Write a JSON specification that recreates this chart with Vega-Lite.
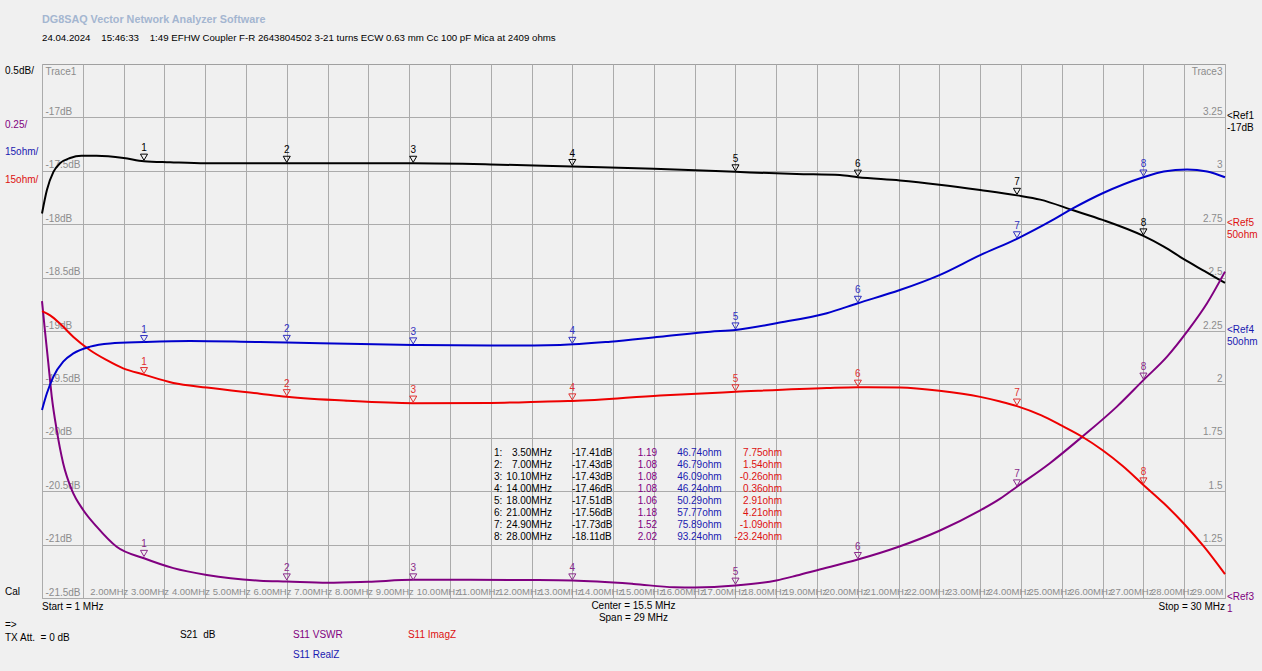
{
  "$schema": "https://vega.github.io/schema/vega-lite/v6.json",
  "width": 1183,
  "height": 534,
  "autosize": {"type": "none"},
  "padding": {"left": 42, "top": 64, "right": 37, "bottom": 73},
  "background": "#f0f0f0",
  "config": {
    "view": {"fill": "#f0f0f0", "stroke": "#a0a0a0", "strokeWidth": 1},
    "text": {"font": "Liberation Sans", "fontSize": 10},
    "axis": {"labelFont": "Liberation Sans", "labelFontSize": 10, "labelColor": "#8c8c8c", "gridColor": "#ababab", "gridOpacity": 1, "gridWidth": 1, "ticks": false, "domain": false, "titleFont": "Liberation Sans"},
    "axisX": {"tickCount": 29, "grid": true, "labelFontSize": 9.5, "labelAlign": "left", "labelBaseline": "bottom", "labelPadding": -2, "labelOffset": 7, "labelOverlap": false, "labelFlush": false, "labelExpr": "datum.value < 1.5 || datum.value > 29.5 ? '' : (datum.value == 29 ? '29.00M' : format(datum.value, '.2f') + 'MHz')"}
  },
  "title": {
    "text": "DG8SAQ Vector Network Analyzer Software",
    "subtitle": "24.04.2024\u00a0\u00a0\u00a0\u00a015:46:33\u00a0\u00a0\u00a0\u00a01:49 EFHW Coupler F-R 2643804502 3-21 turns ECW 0.63 mm Cc 100 pF Mica at 2409 ohms",
    "anchor": "start", "frame": "group", "offset": 21,
    "font": "Liberation Sans", "fontSize": 10.8, "fontWeight": "bold", "color": "#a4b6d0",
    "subtitleFont": "Liberation Sans", "subtitleFontSize": 9.7, "subtitleColor": "#000000", "subtitlePadding": 9
  },
  "datasets": {
    "s21": [
      {"f":1.0,"db":-17.90},{"f":1.12,"db":-17.68},{"f":1.28,"db":-17.51},{"f":1.44,"db":-17.43},{"f":1.69,"db":-17.38},{"f":1.97,"db":-17.36},{"f":2.34,"db":-17.36},{"f":3.0,"db":-17.38},{"f":3.5,"db":-17.41},{"f":4.14,"db":-17.42},{"f":5.0,"db":-17.43},{"f":6.34,"db":-17.43},{"f":7.0,"db":-17.43},{"f":8.5,"db":-17.43},{"f":10.1,"db":-17.43},{"f":12.0,"db":-17.44},{"f":14.0,"db":-17.46},{"f":16.0,"db":-17.48},{"f":18.0,"db":-17.51},{"f":19.5,"db":-17.53},{"f":20.56,"db":-17.54},{"f":21.0,"db":-17.56},{"f":22.03,"db":-17.59},{"f":23.0,"db":-17.63},{"f":24.0,"db":-17.68},{"f":24.9,"db":-17.73},{"f":25.47,"db":-17.77},{"f":26.28,"db":-17.87},{"f":27.0,"db":-17.96},{"f":28.0,"db":-18.11},{"f":28.5,"db":-18.21},{"f":29.0,"db":-18.33},{"f":29.5,"db":-18.44},{"f":30.0,"db":-18.55}
    ],
    "vswr": [
      {"f":1.0,"vswr":2.39},{"f":1.07,"vswr":2.255},{"f":1.155,"vswr":2.10},{"f":1.24,"vswr":1.942},{"f":1.36,"vswr":1.787},{"f":1.52,"vswr":1.63},{"f":1.73,"vswr":1.506},{"f":2.01,"vswr":1.412},{"f":2.34,"vswr":1.334},{"f":2.83,"vswr":1.24},{"f":3.5,"vswr":1.186},{"f":4.22,"vswr":1.14},{"f":5.04,"vswr":1.108},{"f":6.34,"vswr":1.081},{"f":7.0,"vswr":1.077},{"f":8.0,"vswr":1.071},{"f":9.0,"vswr":1.076},{"f":10.1,"vswr":1.085},{"f":11.5,"vswr":1.085},{"f":13.0,"vswr":1.084},{"f":14.0,"vswr":1.082},{"f":15.5,"vswr":1.066},{"f":16.5,"vswr":1.05},{"f":17.0,"vswr":1.049},{"f":18.0,"vswr":1.058},{"f":19.0,"vswr":1.082},{"f":19.5,"vswr":1.105},{"f":20.0,"vswr":1.13},{"f":21.0,"vswr":1.18},{"f":22.0,"vswr":1.24},{"f":23.0,"vswr":1.315},{"f":24.0,"vswr":1.41},{"f":24.49,"vswr":1.465},{"f":24.9,"vswr":1.521},{"f":25.7,"vswr":1.63},{"f":26.5,"vswr":1.755},{"f":27.35,"vswr":1.896},{"f":28.0,"vswr":2.02},{"f":28.58,"vswr":2.13},{"f":29.07,"vswr":2.247},{"f":29.56,"vswr":2.38},{"f":30.0,"vswr":2.528}
    ],
    "realz": [
      {"f":1.0,"re":27.8},{"f":1.12,"re":32.5},{"f":1.28,"re":37.2},{"f":1.52,"re":41.4},{"f":1.77,"re":43.7},{"f":2.18,"re":45.6},{"f":2.67,"re":46.5},{"f":3.5,"re":46.9},{"f":4.63,"re":47.2},{"f":6.34,"re":46.9},{"f":7.0,"re":46.8},{"f":8.5,"re":46.4},{"f":10.1,"re":46.1},{"f":12.0,"re":45.9},{"f":13.7,"re":46.1},{"f":14.93,"re":47.0},{"f":16.15,"re":48.4},{"f":17.38,"re":49.8},{"f":18.0,"re":50.3},{"f":19.0,"re":52.2},{"f":20.24,"re":55.0},{"f":21.0,"re":57.8},{"f":22.03,"re":61.5},{"f":23.0,"re":65.7},{"f":24.0,"re":71.3},{"f":24.9,"re":75.9},{"f":25.78,"re":81.2},{"f":26.28,"re":84.5},{"f":27.0,"re":88.7},{"f":28.0,"re":93.2},{"f":28.5,"re":94.8},{"f":29.07,"re":95.4},{"f":29.56,"re":94.8},{"f":30.0,"re":93.2}
    ],
    "imagz": [
      {"f":1.0,"im":25.6},{"f":1.2,"im":24.4},{"f":1.44,"im":22.1},{"f":1.77,"im":18.3},{"f":2.18,"im":14.6},{"f":2.59,"im":11.8},{"f":2.99,"im":9.5},{"f":3.5,"im":7.75},{"f":4.22,"im":5.4},{"f":5.04,"im":4.1},{"f":6.34,"im":2.4},{"f":7.0,"im":1.54},{"f":8.5,"im":0.4},{"f":10.1,"im":-0.26},{"f":12.0,"im":-0.2},{"f":13.7,"im":0.3},{"f":14.0,"im":0.36},{"f":16.15,"im":1.9},{"f":18.0,"im":2.91},{"f":20.24,"im":4.0},{"f":21.0,"im":4.21},{"f":22.03,"im":4.1},{"f":23.0,"im":3.2},{"f":24.0,"im":1.5},{"f":24.49,"im":0.2},{"f":24.9,"im":-1.09},{"f":25.5,"im":-3.7},{"f":26.0,"im":-6.6},{"f":26.5,"im":-9.7},{"f":27.0,"im":-13.5},{"f":27.5,"im":-18.0},{"f":28.0,"im":-23.24},{"f":28.5,"im":-28.4},{"f":29.0,"im":-34.2},{"f":29.5,"im":-40.8},{"f":30.0,"im":-48.3}
    ],
    "markers": [
      {"m":1,"f":3.5,"db":-17.41,"vswr":1.19,"re":46.74,"im":7.75},
      {"m":2,"f":7.0,"db":-17.43,"vswr":1.08,"re":46.79,"im":1.54},
      {"m":3,"f":10.1,"db":-17.43,"vswr":1.08,"re":46.09,"im":-0.26},
      {"m":4,"f":14.0,"db":-17.46,"vswr":1.08,"re":46.24,"im":0.36},
      {"m":5,"f":18.0,"db":-17.51,"vswr":1.06,"re":50.29,"im":2.91},
      {"m":6,"f":21.0,"db":-17.56,"vswr":1.18,"re":57.77,"im":4.21},
      {"m":7,"f":24.9,"db":-17.73,"vswr":1.52,"re":75.89,"im":-1.09},
      {"m":8,"f":28.0,"db":-18.11,"vswr":2.02,"re":93.24,"im":-23.24}
    ],
    "one": [{"k": 1}]
  },
  "layer": [
    {"data": {"name": "s21"}, "mark": {"type": "line", "color": "#000000", "strokeWidth": 2, "interpolate": "monotone"},
      "encoding": {
        "x": {"field": "f", "type": "quantitative", "title": null, "scale": {"domain": [1, 30], "nice": false, "zero": false}},
        "y": {"field": "db", "type": "quantitative", "scale": {"domain": [-21.5, -16.5], "nice": false, "zero": false},
          "axis": {"orient": "left", "values": [-17,-17.5,-18,-18.5,-19,-19.5,-20,-20.5,-21,-21.5], "grid": true, "labelAlign": "left", "labelBaseline": "bottom", "labelPadding": -3, "labelOffset": -1, "labelOverlap": false, "labelFlush": false, "labelExpr": "'' + datum.value + 'dB'", "title": "Trace1", "titleAngle": 0, "titleX": 3, "titleY": 2, "titleAlign": "left", "titleBaseline": "top", "titleColor": "#8c8c8c", "titleFontWeight": "normal", "titleFontSize": 10}}
      }},
    {"data": {"name": "vswr"}, "mark": {"type": "line", "color": "#800080", "strokeWidth": 2, "interpolate": "monotone"},
      "encoding": {
        "x": {"field": "f", "type": "quantitative", "title": null, "scale": {"domain": [1, 30], "nice": false, "zero": false}},
        "y": {"field": "vswr", "type": "quantitative", "scale": {"domain": [1, 3.5], "nice": false, "zero": false},
          "axis": {"orient": "right", "values": [1.25,1.5,1.75,2,2.25,2.5,2.75,3,3.25], "grid": false, "labelAlign": "right", "labelBaseline": "bottom", "labelPadding": -3, "labelOffset": -1, "labelOverlap": false, "labelFlush": false, "labelExpr": "'' + datum.value", "title": "Trace3", "titleAngle": 0, "titleX": -3, "titleY": 2, "titleAlign": "right", "titleBaseline": "top", "titleColor": "#8c8c8c", "titleFontWeight": "normal", "titleFontSize": 10}}
      }},
    {"data": {"name": "imagz"}, "mark": {"type": "line", "color": "#ee0000", "strokeWidth": 2, "interpolate": "monotone"},
      "encoding": {
        "x": {"field": "f", "type": "quantitative", "title": null, "scale": {"domain": [1, 30], "nice": false, "zero": false}},
        "y": {"field": "im", "type": "quantitative", "scale": {"domain": [-55, 95], "nice": false, "zero": false}, "axis": null}
      }},
    {"data": {"name": "realz"}, "mark": {"type": "line", "color": "#0000cc", "strokeWidth": 2, "interpolate": "monotone"},
      "encoding": {
        "x": {"field": "f", "type": "quantitative", "title": null, "scale": {"domain": [1, 30], "nice": false, "zero": false}},
        "y": {"field": "re", "type": "quantitative", "scale": {"domain": [-25, 125], "nice": false, "zero": false}, "axis": null}
      }},
    {"data": {"name": "markers"}, "mark": {"type": "point", "shape": "triangle-down", "filled": false, "size": 50, "strokeWidth": 1, "color": "#000000", "opacity": 1, "yOffset": -4},
      "encoding": {"x": {"field": "f", "type": "quantitative", "title": null, "scale": {"domain": [1, 30], "nice": false, "zero": false}}, "y": {"field": "db", "type": "quantitative", "scale": {"domain": [-21.5, -16.5], "nice": false, "zero": false}, "axis": null}}},
    {"data": {"name": "markers"}, "mark": {"type": "text", "color": "#000000", "dy": -13},
      "encoding": {"x": {"field": "f", "type": "quantitative", "title": null, "scale": {"domain": [1, 30], "nice": false, "zero": false}}, "y": {"field": "db", "type": "quantitative", "scale": {"domain": [-21.5, -16.5], "nice": false, "zero": false}, "axis": null}, "text": {"field": "m", "type": "nominal"}}},
    {"data": {"name": "markers"}, "mark": {"type": "point", "shape": "triangle-down", "filled": false, "size": 50, "strokeWidth": 1, "color": "#8a2a8a", "opacity": 1, "yOffset": -4},
      "encoding": {"x": {"field": "f", "type": "quantitative", "title": null, "scale": {"domain": [1, 30], "nice": false, "zero": false}}, "y": {"field": "vswr", "type": "quantitative", "scale": {"domain": [1, 3.5], "nice": false, "zero": false}, "axis": null}}},
    {"data": {"name": "markers"}, "mark": {"type": "text", "color": "#8a2a8a", "dy": -13},
      "encoding": {"x": {"field": "f", "type": "quantitative", "title": null, "scale": {"domain": [1, 30], "nice": false, "zero": false}}, "y": {"field": "vswr", "type": "quantitative", "scale": {"domain": [1, 3.5], "nice": false, "zero": false}, "axis": null}, "text": {"field": "m", "type": "nominal"}}},
    {"data": {"name": "markers"}, "mark": {"type": "point", "shape": "triangle-down", "filled": false, "size": 50, "strokeWidth": 1, "color": "#e03030", "opacity": 1, "yOffset": -4},
      "encoding": {"x": {"field": "f", "type": "quantitative", "title": null, "scale": {"domain": [1, 30], "nice": false, "zero": false}}, "y": {"field": "im", "type": "quantitative", "scale": {"domain": [-55, 95], "nice": false, "zero": false}, "axis": null}}},
    {"data": {"name": "markers"}, "mark": {"type": "text", "color": "#e03030", "dy": -13},
      "encoding": {"x": {"field": "f", "type": "quantitative", "title": null, "scale": {"domain": [1, 30], "nice": false, "zero": false}}, "y": {"field": "im", "type": "quantitative", "scale": {"domain": [-55, 95], "nice": false, "zero": false}, "axis": null}, "text": {"field": "m", "type": "nominal"}}},
    {"data": {"name": "markers"}, "mark": {"type": "point", "shape": "triangle-down", "filled": false, "size": 50, "strokeWidth": 1, "color": "#3030c0", "opacity": 1, "yOffset": -4},
      "encoding": {"x": {"field": "f", "type": "quantitative", "title": null, "scale": {"domain": [1, 30], "nice": false, "zero": false}}, "y": {"field": "re", "type": "quantitative", "scale": {"domain": [-25, 125], "nice": false, "zero": false}, "axis": null}}},
    {"data": {"name": "markers"}, "mark": {"type": "text", "color": "#3030c0", "dy": -13},
      "encoding": {"x": {"field": "f", "type": "quantitative", "title": null, "scale": {"domain": [1, 30], "nice": false, "zero": false}}, "y": {"field": "re", "type": "quantitative", "scale": {"domain": [-25, 125], "nice": false, "zero": false}, "axis": null}, "text": {"field": "m", "type": "nominal"}}},

    {"data": {"name": "markers"}, "mark": {"type": "text", "align": "left", "baseline": "middle", "color": "#000000", "text": {"expr": "datum.m + ':'"}},
      "encoding": {"x": {"datum": 12.08, "title": null, "scale": {"domain": [1, 30], "nice": false, "zero": false}}, "y": {"field": "m", "type": "quantitative", "scale": {"domain": [-31.392, 13.108], "nice": false, "zero": false, "reverse": true}, "axis": null}}},
    {"data": {"name": "markers"}, "mark": {"type": "text", "align": "right", "baseline": "middle", "color": "#000000", "text": {"expr": "format(datum.f, '.2f') + 'MHz'"}},
      "encoding": {"x": {"datum": 13.5, "title": null, "scale": {"domain": [1, 30], "nice": false, "zero": false}}, "y": {"field": "m", "type": "quantitative", "scale": {"domain": [-31.392, 13.108], "nice": false, "zero": false, "reverse": true}, "axis": null}}},
    {"data": {"name": "markers"}, "mark": {"type": "text", "align": "left", "baseline": "middle", "color": "#000000", "text": {"expr": "replace(format(datum.db, '.2f'), '\u2212', '-') + 'dB'"}},
      "encoding": {"x": {"datum": 13.99, "title": null, "scale": {"domain": [1, 30], "nice": false, "zero": false}}, "y": {"field": "m", "type": "quantitative", "scale": {"domain": [-31.392, 13.108], "nice": false, "zero": false, "reverse": true}, "axis": null}}},
    {"data": {"name": "markers"}, "mark": {"type": "text", "align": "right", "baseline": "middle", "color": "#800080", "text": {"expr": "format(datum.vswr, '.2f')"}},
      "encoding": {"x": {"datum": 16.08, "title": null, "scale": {"domain": [1, 30], "nice": false, "zero": false}}, "y": {"field": "m", "type": "quantitative", "scale": {"domain": [-31.392, 13.108], "nice": false, "zero": false, "reverse": true}, "axis": null}}},
    {"data": {"name": "markers"}, "mark": {"type": "text", "align": "left", "baseline": "middle", "color": "#1a1ab0", "text": {"expr": "format(datum.re, '.2f') + 'ohm'"}},
      "encoding": {"x": {"datum": 16.57, "title": null, "scale": {"domain": [1, 30], "nice": false, "zero": false}}, "y": {"field": "m", "type": "quantitative", "scale": {"domain": [-31.392, 13.108], "nice": false, "zero": false, "reverse": true}, "axis": null}}},
    {"data": {"name": "markers"}, "mark": {"type": "text", "align": "right", "baseline": "middle", "color": "#dd1111", "text": {"expr": "replace(format(datum.im, '.2f'), '\u2212', '-') + 'ohm'"}},
      "encoding": {"x": {"datum": 19.14, "title": null, "scale": {"domain": [1, 30], "nice": false, "zero": false}}, "y": {"field": "m", "type": "quantitative", "scale": {"domain": [-31.392, 13.108], "nice": false, "zero": false, "reverse": true}, "axis": null}}},

    {"data": {"name": "one"}, "mark": {"type": "text", "text": ["<Ref1", "-17dB"], "align": "left", "baseline": "top", "dx": 2, "dy": -6, "lineHeight": 12, "color": "#000000"},
      "encoding": {"x": {"datum": 30, "title": null, "scale": {"domain": [1, 30], "nice": false, "zero": false}}, "y": {"datum": -17, "scale": {"domain": [-21.5, -16.5], "nice": false, "zero": false}, "axis": null}}},
    {"data": {"name": "one"}, "mark": {"type": "text", "text": ["<Ref5", "50ohm"], "align": "left", "baseline": "top", "dx": 2, "dy": -6, "lineHeight": 12, "color": "#dd1111"},
      "encoding": {"x": {"datum": 30, "title": null, "scale": {"domain": [1, 30], "nice": false, "zero": false}}, "y": {"datum": 50, "scale": {"domain": [-55, 95], "nice": false, "zero": false}, "axis": null}}},
    {"data": {"name": "one"}, "mark": {"type": "text", "text": ["<Ref4", "50ohm"], "align": "left", "baseline": "top", "dx": 2, "dy": -6, "lineHeight": 12, "color": "#1a1ab0"},
      "encoding": {"x": {"datum": 30, "title": null, "scale": {"domain": [1, 30], "nice": false, "zero": false}}, "y": {"datum": 50, "scale": {"domain": [-25, 125], "nice": false, "zero": false}, "axis": null}}},
    {"data": {"name": "one"}, "mark": {"type": "text", "text": ["<Ref3", "1"], "align": "left", "baseline": "top", "dx": 2, "dy": -6, "lineHeight": 12, "color": "#800080"},
      "encoding": {"x": {"datum": 30, "title": null, "scale": {"domain": [1, 30], "nice": false, "zero": false}}, "y": {"datum": 1, "scale": {"domain": [1, 3.5], "nice": false, "zero": false}, "axis": null}}},
    {"data": {"name": "one"}, "mark": {"type": "text", "text": "0.5dB/", "align": "left", "baseline": "middle", "dx": -37, "dy": 7, "color": "#000000"},
      "encoding": {"x": {"datum": 1, "title": null, "scale": {"domain": [1, 30], "nice": false, "zero": false}}, "y": {"datum": -16.5, "scale": {"domain": [-21.5, -16.5], "nice": false, "zero": false}, "axis": null}}},
    {"data": {"name": "one"}, "mark": {"type": "text", "text": "0.25/", "align": "left", "baseline": "middle", "dx": -37, "dy": 61, "color": "#800080"},
      "encoding": {"x": {"datum": 1, "title": null, "scale": {"domain": [1, 30], "nice": false, "zero": false}}, "y": {"datum": 3.5, "scale": {"domain": [1, 3.5], "nice": false, "zero": false}, "axis": null}}},
    {"data": {"name": "one"}, "mark": {"type": "text", "text": "15ohm/", "align": "left", "baseline": "middle", "dx": -37, "dy": 88, "color": "#1a1ab0"},
      "encoding": {"x": {"datum": 1, "title": null, "scale": {"domain": [1, 30], "nice": false, "zero": false}}, "y": {"datum": 125, "scale": {"domain": [-25, 125], "nice": false, "zero": false}, "axis": null}}},
    {"data": {"name": "one"}, "mark": {"type": "text", "text": "15ohm/", "align": "left", "baseline": "middle", "dx": -37, "dy": 116, "color": "#dd1111"},
      "encoding": {"x": {"datum": 1, "title": null, "scale": {"domain": [1, 30], "nice": false, "zero": false}}, "y": {"datum": 95, "scale": {"domain": [-55, 95], "nice": false, "zero": false}, "axis": null}}},
    {"data": {"name": "one"}, "mark": {"type": "text", "text": "Cal", "align": "left", "baseline": "middle", "dx": -37, "dy": -6, "color": "#000000"},
      "encoding": {"x": {"datum": 1, "title": null, "scale": {"domain": [1, 30], "nice": false, "zero": false}}, "y": {"datum": -21.5, "scale": {"domain": [-21.5, -16.5], "nice": false, "zero": false}, "axis": null}}},
    {"data": {"name": "one"}, "mark": {"type": "text", "text": "Start = 1 MHz", "align": "left", "baseline": "middle", "dy": 9, "color": "#000000"},
      "encoding": {"x": {"datum": 1, "title": null, "scale": {"domain": [1, 30], "nice": false, "zero": false}}, "y": {"datum": -21.5, "scale": {"domain": [-21.5, -16.5], "nice": false, "zero": false}, "axis": null}}},
    {"data": {"name": "one"}, "mark": {"type": "text", "text": ["Center = 15.5 MHz", "Span = 29 MHz"], "align": "center", "baseline": "top", "dy": 3, "lineHeight": 12, "color": "#000000"},
      "encoding": {"x": {"datum": 15.5, "title": null, "scale": {"domain": [1, 30], "nice": false, "zero": false}}, "y": {"datum": -21.5, "scale": {"domain": [-21.5, -16.5], "nice": false, "zero": false}, "axis": null}}},
    {"data": {"name": "one"}, "mark": {"type": "text", "text": "Stop = 30 MHz", "align": "right", "baseline": "middle", "dy": 9, "color": "#000000"},
      "encoding": {"x": {"datum": 30, "title": null, "scale": {"domain": [1, 30], "nice": false, "zero": false}}, "y": {"datum": -21.5, "scale": {"domain": [-21.5, -16.5], "nice": false, "zero": false}, "axis": null}}},
    {"data": {"name": "one"}, "mark": {"type": "text", "text": ["=>", "TX Att.\u00a0\u00a0= 0 dB"], "align": "left", "baseline": "top", "dx": -37, "dy": 22, "lineHeight": 13, "color": "#000000"},
      "encoding": {"x": {"datum": 1, "title": null, "scale": {"domain": [1, 30], "nice": false, "zero": false}}, "y": {"datum": -21.5, "scale": {"domain": [-21.5, -16.5], "nice": false, "zero": false}, "axis": null}}},
    {"data": {"name": "one"}, "mark": {"type": "text", "text": "S21\u00a0\u00a0dB", "align": "left", "baseline": "middle", "dy": 37, "color": "#000000"},
      "encoding": {"x": {"datum": 4.38, "title": null, "scale": {"domain": [1, 30], "nice": false, "zero": false}}, "y": {"datum": -21.5, "scale": {"domain": [-21.5, -16.5], "nice": false, "zero": false}, "axis": null}}},
    {"data": {"name": "one"}, "mark": {"type": "text", "text": "S11 VSWR", "align": "left", "baseline": "middle", "dy": 37, "color": "#800080"},
      "encoding": {"x": {"datum": 7.15, "title": null, "scale": {"domain": [1, 30], "nice": false, "zero": false}}, "y": {"datum": 1, "scale": {"domain": [1, 3.5], "nice": false, "zero": false}, "axis": null}}},
    {"data": {"name": "one"}, "mark": {"type": "text", "text": "S11 ImagZ", "align": "left", "baseline": "middle", "dy": 37, "color": "#dd1111"},
      "encoding": {"x": {"datum": 9.97, "title": null, "scale": {"domain": [1, 30], "nice": false, "zero": false}}, "y": {"datum": -55, "scale": {"domain": [-55, 95], "nice": false, "zero": false}, "axis": null}}},
    {"data": {"name": "one"}, "mark": {"type": "text", "text": "S11 RealZ", "align": "left", "baseline": "middle", "dy": 57, "color": "#1a1ab0"},
      "encoding": {"x": {"datum": 7.15, "title": null, "scale": {"domain": [1, 30], "nice": false, "zero": false}}, "y": {"datum": -25, "scale": {"domain": [-25, 125], "nice": false, "zero": false}, "axis": null}}}
  ],
  "resolve": {"scale": {"y": "independent"}, "axis": {"y": "independent"}}
}
